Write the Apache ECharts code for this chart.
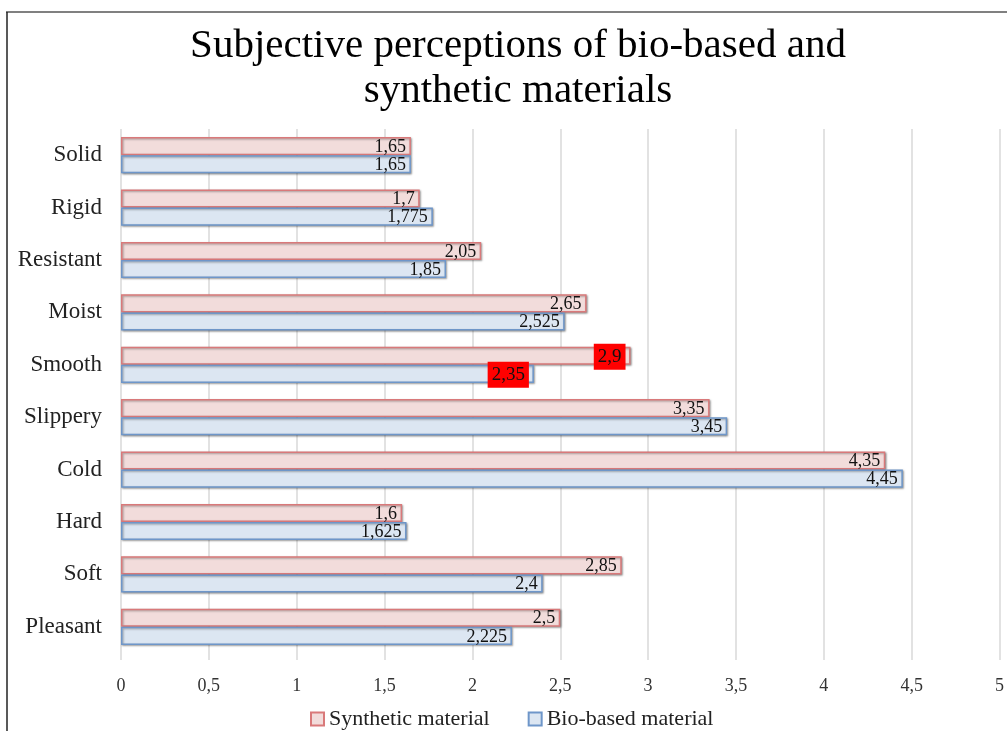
<!DOCTYPE html>
<html>
<head>
<meta charset="utf-8">
<script src="https://cdn.jsdelivr.net/npm/echarts@6/dist/echarts.min.js"></script>
<style>html,body{margin:0;padding:0;background:#fff;}#c{width:1007px;height:731px;}</style>
</head>
<body>
<div id="c"></div>
<script>
const categories = ['Solid','Rigid','Resistant','Moist','Smooth','Slippery','Cold','Hard','Soft','Pleasant'];
const synthetic = [1.65, 1.7, 2.05, 2.65, 2.9, 3.35, 4.35, 1.6, 2.85, 2.5];
const bioBased = [1.65, 1.775, 1.85, 2.525, 2.35, 3.45, 4.45, 1.625, 2.4, 2.225];
const xTicks = [0, 0.5, 1, 1.5, 2, 2.5, 3, 3.5, 4, 4.5, 5];
const highlighted = ['Smooth'];

const serif = "'Liberation Serif', 'DejaVu Serif', serif";
const fmt = v => String(v).replace('.', ',');

function buildData(arr) {
  return arr.map((v, i) => {
    if (highlighted.indexOf(categories[i]) >= 0) {
      return { value: v, label: { backgroundColor: '#ff0000', padding: [4, 4, 3, 4], fontSize: 19 } };
    }
    return v;
  });
}

const chart = echarts.init(document.getElementById('c'));
const shadow = { shadowColor: 'rgba(0,0,0,0.35)', shadowBlur: 2, shadowOffsetX: 1, shadowOffsetY: 1 };
chart.setOption({
  backgroundColor: '#fff',
  animation: false,
  title: {
    text: 'Subjective perceptions of bio-based and\nsynthetic materials',
    left: 513,
    textAlign: 'center',
    top: 19,
    textStyle: { fontFamily: serif, fontSize: 41, fontWeight: 'normal', color: '#000', lineHeight: 45 }
  },
  graphic: [
    { type: 'line', shape: { x1: 6, y1: 12, x2: 1007, y2: 12 }, style: { stroke: '#808080', lineWidth: 2 } },
    { type: 'line', shape: { x1: 7, y1: 12, x2: 7, y2: 731 }, style: { stroke: '#222', lineWidth: 1.5 } }
  ],
  legend: {
    top: 703,
    left: 305,
    itemWidth: 13,
    itemHeight: 13,
    itemGap: 38,
    icon: 'rect',
    textStyle: { fontFamily: serif, fontSize: 22, color: '#222' },
    data: ['Synthetic material', 'Bio-based material']
  },
  grid: { left: 121, right: 6, top: 129, bottom: 78 },
  xAxis: {
    type: 'value',
    min: 0,
    max: 5,
    interval: 0.5,
    axisLine: { show: false },
    axisTick: { show: true, length: 7, lineStyle: { color: '#d9d9d9', width: 1.5 } },
    splitLine: { show: true, lineStyle: { color: '#d9d9d9', width: 1.5 } },
    axisLabel: {
      margin: 24,
      fontFamily: serif, fontSize: 18, color: '#333',
      formatter: v => (xTicks.indexOf(v) >= 0 ? fmt(v) : '')
    }
  },
  yAxis: {
    type: 'category',
    inverse: true,
    data: categories,
    axisLine: { show: false },
    axisTick: { show: false },
    axisLabel: { margin: 19, fontFamily: serif, fontSize: 23, color: '#222' }
  },
  series: [
    {
      name: 'Synthetic material',
      type: 'bar',
      data: buildData(synthetic),
      barGap: '0%',
      barCategoryGap: '31%',
      itemStyle: Object.assign({ color: '#f2dcdb', borderColor: '#d9797a', borderWidth: 1.5 }, shadow),
      label: {
        show: true, position: 'insideRight', distance: 5, offset: [0, 1],
        fontFamily: serif, fontSize: 18, color: '#111',
        formatter: p => fmt(p.value)
      }
    },
    {
      name: 'Bio-based material',
      type: 'bar',
      data: buildData(bioBased),
      barGap: '0%',
      barCategoryGap: '31%',
      itemStyle: Object.assign({ color: '#dce6f2', borderColor: '#6e96c9', borderWidth: 1.5 }, shadow),
      label: {
        show: true, position: 'insideRight', distance: 5, offset: [0, 1],
        fontFamily: serif, fontSize: 18, color: '#111',
        formatter: p => fmt(p.value)
      }
    }
  ]
});
</script>
</body>
</html>
